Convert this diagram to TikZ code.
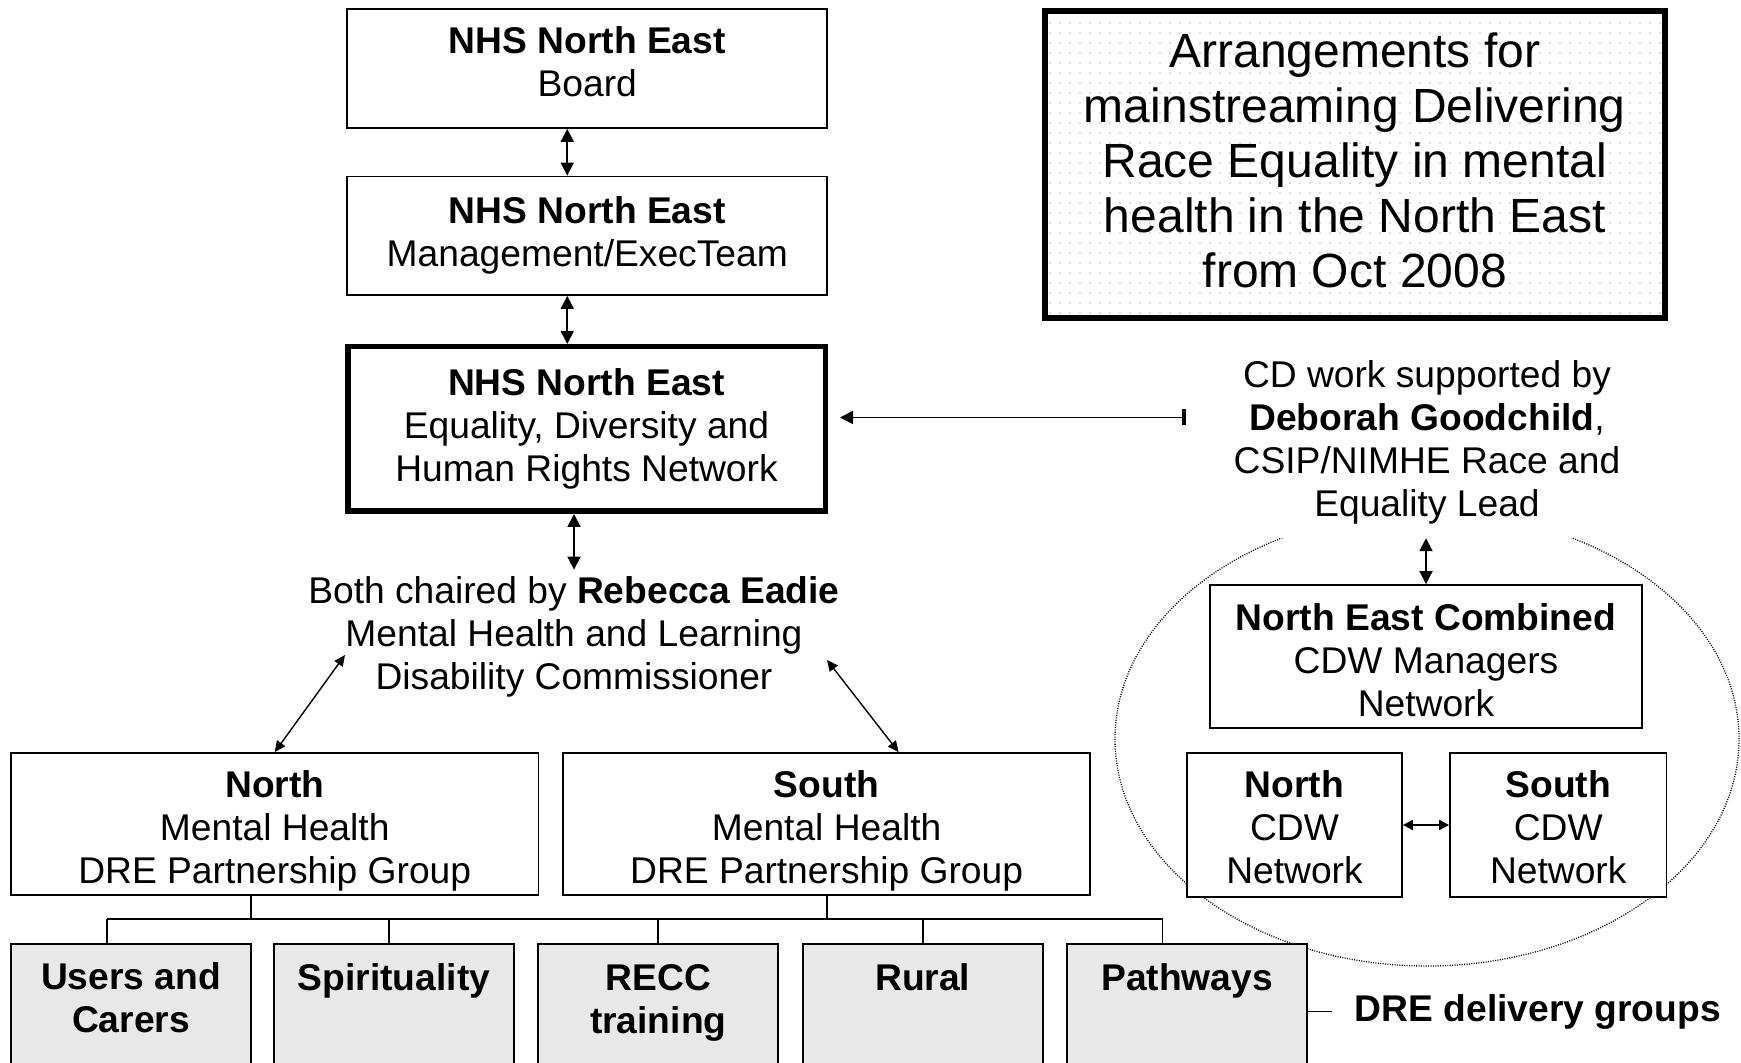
\documentclass[tikz,border=0pt]{standalone}
\usepackage{fontspec}
\setmainfont{Liberation Sans}
\usetikzlibrary{arrows.meta,calc,patterns.meta}
\definecolor{boxgray}{HTML}{E8E8E8}
\newcommand{\padtop}[1]{\rule{0pt}{#1}}
\newcommand{\padbot}[1]{\rule[-#1]{0pt}{#1}}
\begin{document}
\begin{tikzpicture}[x=0.5pt,y=-0.5pt,
  every node/.style={font=\fontsize{18.6pt}{21.5pt}\selectfont},
  box/.style={draw, line width=0.9pt, fill=white, align=center, inner sep=0pt},
  dbox/.style={draw, line width=0.9pt, fill=boxgray, inner sep=0pt, minimum width=120pt, minimum height=68pt},
  dlabel/.style={align=center, font=\fontsize{18.6pt}{21.5pt}\selectfont\bfseries, inner sep=0pt},
  txt/.style={align=center},
  dar/.style={{Triangle[length=6.5pt,width=6.5pt]}-{Triangle[length=6.5pt,width=6.5pt]}, line width=0.9pt},
  sar/.style={{Triangle[length=5.5pt,width=5pt]}-{Triangle[length=5.5pt,width=5pt]}, line width=0.7pt},
  conn/.style={line width=0.9pt}
]
\useasboundingbox (0,0) rectangle (1741,1063);
\clip (0,0) rectangle (1741,1063);

% dotted ellipse
\draw[line width=0.65pt, dash pattern=on 0.5pt off 0.7pt] (1427,739) ellipse [x radius=156pt, y radius=113.5pt];

% title
\node[draw, line width=3pt, minimum width=310.25pt, minimum height=153.5pt,
  pattern={Dots[distance=5pt, radius=0.45pt]}, pattern color=gray!55,
  align=center, font=\fontsize{24pt}{27.5pt}\selectfont, inner sep=0pt] (title) at (1354.75,164.5)
  {Arrangements for\\mainstreaming Delivering\\Race Equality in mental\\health in the North East\\from Oct 2008\padbot{4.4pt}};

% main column
\node[box, minimum width=240pt, minimum height=59.5pt] (board) at (587.25,68.5) {\textbf{NHS North East}\\Board\padbot{6.7pt}};
\node[box, minimum width=240pt, minimum height=59.25pt] (mgmt) at (587.25,235.75) {\textbf{NHS North East}\\Management/ExecTeam};
\node[box, line width=2.75pt, minimum width=238.75pt, minimum height=82.25pt] (edhr) at (586.5,429) {\textbf{NHS North East}\\Equality, Diversity and\\Human Rights Network};

\node[txt] (chair) at (574,637) {Both chaired by \textbf{Rebecca Eadie}\\Mental Health and Learning\\Disability Commissioner};

\node[box, minimum width=263.75pt, minimum height=71pt] (nmh) at (274.75,824) {\padtop{20.5pt}\textbf{North}\\Mental Health\\DRE Partnership Group};
\node[box, minimum width=263.6pt, minimum height=71pt] (smh) at (826.6,824) {\padtop{20.5pt}\textbf{South}\\Mental Health\\DRE Partnership Group};

% delivery groups
\node[dbox] (d1) at (131,1012) {};
\node[dbox] (d2) at (394,1012) {};
\node[dbox] (d3) at (658.25,1012) {};
\node[dbox] (d4) at (922.75,1012) {};
\node[dbox] (d5) at (1187,1012) {};
\node[dlabel] (d1t) at ([yshift=-27.25pt]d1.north) {Users and\\Carers};
\node[dlabel, anchor=base] (d2t) at ([yshift=-23.75pt]d2.north) {Spirituality};
\node[dlabel] (d3t) at ([yshift=-30pt]d3.north) {RECC\\training};
\node[dlabel, anchor=base] (d4t) at ([yshift=-23.75pt]d4.north) {Rural};
\node[dlabel, anchor=base] (d5t) at ([yshift=-23.75pt]d5.north) {Pathways};
\node[dlabel, anchor=west] (dre) at (1354.5,1011.5) {DRE delivery groups};

% right side
\node[txt, fill=white, inner xsep=4pt, inner ysep=7pt] (cd) at (1427,442) {CD work supported by\\\textbf{Deborah Goodchild},\\CSIP/NIMHE Race and\\Equality Lead};
\node[box, minimum width=216pt, minimum height=71.5pt] (ne) at (1426,656.5) {\padtop{16.7pt}\textbf{North East Combined}\\CDW Managers\\Network};
\node[box, minimum width=107.5pt, minimum height=72pt] (ncdw) at (1294.5,825) {\padtop{15.5pt}\textbf{North}\\CDW\\Network};
\node[box, minimum width=108.25pt, minimum height=72pt] (scdw) at (1558.25,825) {\padtop{15.5pt}\textbf{South}\\CDW\\Network};

% arrows
\draw[dar] ([xshift=-10pt]board.south) -- ([xshift=-10pt]mgmt.north);
\draw[dar] ([xshift=-10pt]mgmt.south) -- ([xshift=-10pt]mgmt.south |- edhr.north);
\draw[dar] (edhr.south -| chair.north) -- (chair.north);
\coordinate (chL) at (345,655);
\coordinate (chR) at (827,660);
\draw[sar] (chL) -- (nmh.north);
\draw[sar] (chR) -- ([xshift=36pt]smh.north);
\coordinate (cdend) at (1186,417.5);
\draw[{Triangle[length=6.5pt,width=6.5pt]}-{Rectangle[length=2pt,width=8pt]}, line width=0.9pt]
  ($(edhr.east |- cdend)+(12,0)$) -- (cdend);
\draw[dar] (cd.south -| ne.north) -- (ne.north);
\draw[{Triangle[length=5pt,width=5pt]}-{Triangle[length=5pt,width=5pt]}, line width=0.9pt] (ncdw.east) -- (scdw.west);

% tree
\coordinate (busL) at (106.6,919);
\coordinate (busR) at (1162.5,919);
\draw[conn] (busL) -- (busR);
\draw[conn] ([xshift=-11.9pt]nmh.south) -- ([xshift=-11.9pt]nmh.south |- busL);
\draw[conn] (smh.south) -- (smh.south |- busL);
\draw[conn] ([xshift=-12.2pt]d1.north) -- ([xshift=-12.2pt]d1.north |- busL);
\draw[conn] ([xshift=-2.7pt]d2.north) -- ([xshift=-2.7pt]d2.north |- busL);
\draw[conn] (d3.north) -- (d3.north |- busL);
\draw[conn] (d4.north) -- (d4.north |- busL);
\draw[conn] ([xshift=-12.25pt]d5.north) -- ([xshift=-12.25pt]d5.north |- busL);
\draw[conn] (d5.east |- dre.west) -- ++(24,0);
\end{tikzpicture}
\end{document}
